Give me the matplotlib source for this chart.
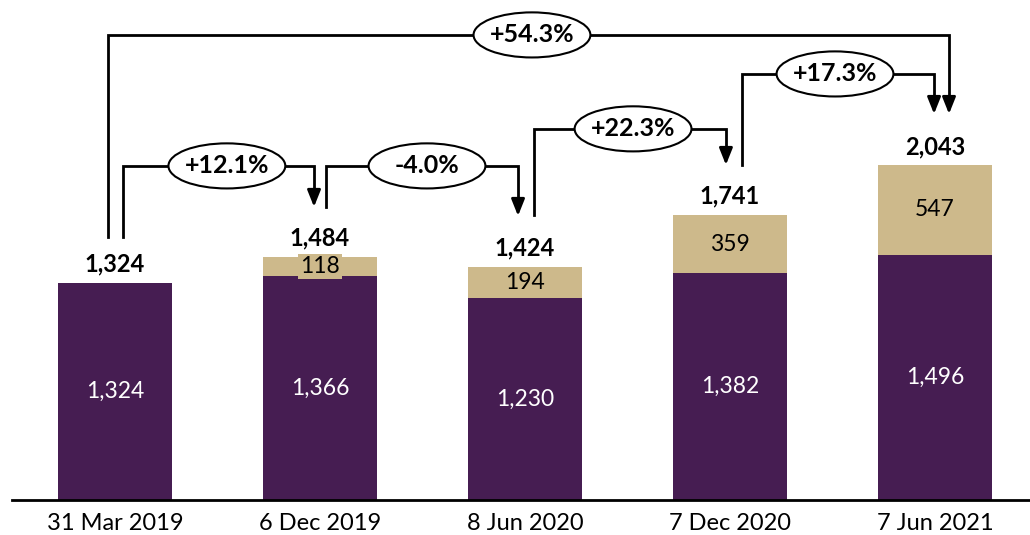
import matplotlib.pyplot as plt
from matplotlib.patches import Ellipse

plt.rcParams['font.family'] = ['Lato', 'DejaVu Sans']

dates = ["31 Mar 2019", "6 Dec 2019", "8 Jun 2020", "7 Dec 2020", "7 Jun 2021"]
base = [1324, 1366, 1230, 1382, 1496]
extra = [0, 118, 194, 359, 547]
totals = [1324, 1484, 1424, 1741, 2043]

# growth brackets: (from bar, to bar, label)
pairs = [(0, 1), (1, 2), (2, 3), (3, 4), (0, 4)]
pct_labels = ["+12.1%", "-4.0%", "+22.3%", "+17.3%", "+54.3%"]
# bracket geometry in data units
start_y = [1605, 1788, 1739, 2044, 1605]
level_y = [2038, 2038, 2264, 2599, 2837]
tip_y = [1788, 1733, 2044, 2355, 2355]
start_dx = [0.039, 0.029, 0.044, 0.059, -0.034]
end_dx = [-0.029, -0.034, -0.02, -0.005, 0.068]
oval_x = [0.546, 1.522, 2.527, 3.512, 2.034]

purple = "#461d52"
tan = "#cdb98b"

fig = plt.figure(figsize=(10.3, 5.35), dpi=100)
ax = fig.add_axes([12 / 1030, 35 / 535, 1018 / 1030, 500 / 535])
x = list(range(len(dates)))
w = 0.556

ax.bar(x, base, width=w, color=purple, zorder=2)
ax.bar(x, extra, bottom=base, width=w, color=tan, zorder=2)

for i in x:
    ax.text(i, base[i] / 2, f"{base[i]:,}", ha='center', va='center',
            color='white', fontsize=16.5)
    if extra[i] > 0:
        yy = base[i] + extra[i] / 2
        if extra[i] < 150:
            ax.text(i, yy, f"{extra[i]}", ha='center', va='center', fontsize=16.5,
                    color='black', zorder=3,
                    bbox=dict(boxstyle='square,pad=0.08', fc=tan, ec='none'))
        else:
            ax.text(i, yy, f"{extra[i]}", ha='center', va='center', fontsize=16.5,
                    color='black', zorder=3)
    ax.text(i, totals[i] + 68, f"{totals[i]:,}", ha='center', va='baseline',
            fontsize=17, fontweight='bold')

for k, (a, b) in enumerate(pairs):
    x0 = a + start_dx[k]
    x1 = b + end_dx[k]
    ax.plot([x0, x0, x1, x1], [start_y[k], level_y[k], level_y[k], tip_y[k] + 95],
            color='black', lw=2, solid_joinstyle='miter', zorder=3)
    ax.annotate("", xy=(x1, tip_y[k]), xytext=(x1, tip_y[k] + 100),
                arrowprops=dict(arrowstyle='-|>,head_length=1.0,head_width=0.4',
                                color='black', lw=2, shrinkA=0, shrinkB=0),
                zorder=4)
    ax.add_patch(Ellipse((oval_x[k], level_y[k]), 0.57, 275, fc='white',
                         ec='black', lw=1.5, zorder=5))
    ax.text(oval_x[k], level_y[k], pct_labels[k], ha='center', va='center',
            fontsize=18, fontweight='bold', zorder=6)

ax.set_xlim(-0.502, 4.463)
ax.set_ylim(0, 3050)
ax.set_xticks(x)
ax.set_xticklabels(dates, fontsize=17)
ax.tick_params(axis='x', length=0, pad=9)
ax.set_yticks([])
for s in ['top', 'left', 'right']:
    ax.spines[s].set_visible(False)
ax.spines['bottom'].set_linewidth(2)

fig.savefig("out.png", dpi=100)
